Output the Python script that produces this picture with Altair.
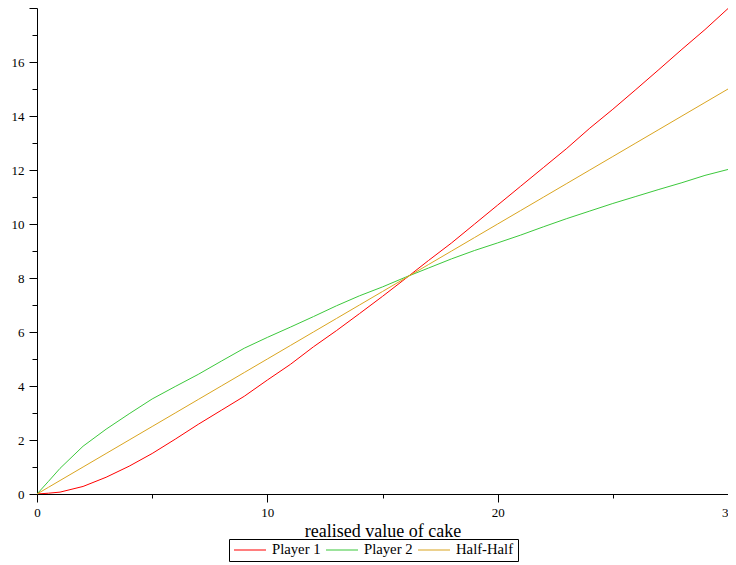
import altair as alt
import pandas as pd

x_vals = [0, 0.5, 1, 2, 3, 4, 5, 6, 7, 8, 9, 10, 11, 12, 13, 14, 15, 16, 17, 18, 19,
          20, 21, 22, 23, 24, 25, 26, 27, 28, 29, 30]
player1 = [0, 0.03, 0.07, 0.28, 0.62, 1.03, 1.5, 2.03, 2.58, 3.1, 3.62, 4.22, 4.8, 5.45,
           6.05, 6.68, 7.32, 7.98, 8.65, 9.3, 10.0, 10.7, 11.4, 12.1, 12.8, 13.55, 14.25,
           14.98, 15.72, 16.47, 17.2, 17.98]
player2 = [0, 0.47, 0.95, 1.77, 2.40, 2.97, 3.52, 3.98, 4.43, 4.92, 5.40, 5.80, 6.18, 6.57,
           6.97, 7.34, 7.67, 8.03, 8.37, 8.71, 9.02, 9.30, 9.59, 9.90, 10.2, 10.48, 10.76,
           11.02, 11.28, 11.53, 11.80, 12.02]
halfhalf = [0, 0.25, 0.5, 1, 1.5, 2, 2.5, 3, 3.5, 4, 4.5, 5, 5.5, 6, 6.5, 7, 7.5, 8, 8.5,
            9, 9.5, 10, 10.5, 11, 11.5, 12, 12.5, 13, 13.5, 14, 14.5, 15]

series_names = ["Player 1", "Player 2", "Half-Half"]
series_colors = ["#FF0000", "#3CC83C", "#DAA520"]

rows = []
for name, vals in zip(series_names, [player1, player2, halfhalf]):
    for xv, yv in zip(x_vals, vals):
        rows.append({"x": xv, "y": yv, "series": name})
df = pd.DataFrame(rows)

x_ticks = [0, 5, 10, 15, 20, 25, 30]
y_ticks = list(range(0, 19))

font = "Liberation Serif"

chart = alt.Chart(df).mark_line(strokeWidth=1, clip=True).encode(
    x=alt.X("x:Q", scale=alt.Scale(domain=[0, 30], nice=False),
            axis=alt.Axis(title="realised value of cake", values=x_ticks,
                          labelExpr="datum.value % 10 === 0 ? datum.label : ''",
                          tickSize={"condition": {"test": "datum.value % 10 === 0", "value": 8}, "value": 4},
                          grid=False, domainColor="black", tickColor="black",
                          labelFlush=False, labelOverlap=False,
                          labelFont=font, labelFontSize=13, labelColor="black",
                          labelPadding=4, titleFont=font, titleFontSize=18,
                          titleFontWeight="normal", titleColor="black", titlePadding=3)),
    y=alt.Y("y:Q", scale=alt.Scale(domain=[0, 18], nice=False),
            axis=alt.Axis(title=None, values=y_ticks,
                          labelExpr="datum.value % 2 === 0 && datum.value < 18 ? datum.label : ''",
                          tickSize={"condition": {"test": "datum.value % 2 === 0", "value": 8}, "value": 5},
                          grid=False, domainColor="black", tickColor="black",
                          labelFlush=False, labelOverlap=False,
                          labelFont=font, labelFontSize=13, labelColor="black",
                          labelPadding=5)),
    color=alt.Color("series:N",
                    scale=alt.Scale(domain=series_names, range=series_colors),
                    sort=series_names,
                    legend=alt.Legend(title=None, orient="none", direction="horizontal",
                                      legendX=192, legendY=531,
                                      symbolType="stroke", symbolSize=1024,
                                      symbolStrokeWidth=2, symbolOpacity=0.5,
                                      clipHeight=14, labelFont=font, labelFontSize=14.7,
                                      labelColor="black", labelOffset=5, columnPadding=4,
                                      padding=4, strokeColor="black",
                                      labelLimit=200)),
).properties(
    width=691, height=486,
    background="white",
    autosize=alt.AutoSizeParams(type="none"),
    padding={"left": 29, "top": 0, "right": 0, "bottom": 70},
).configure_view(strokeWidth=0)

chart.save("out.html", embed_options={"renderer": "svg", "actions": False})
